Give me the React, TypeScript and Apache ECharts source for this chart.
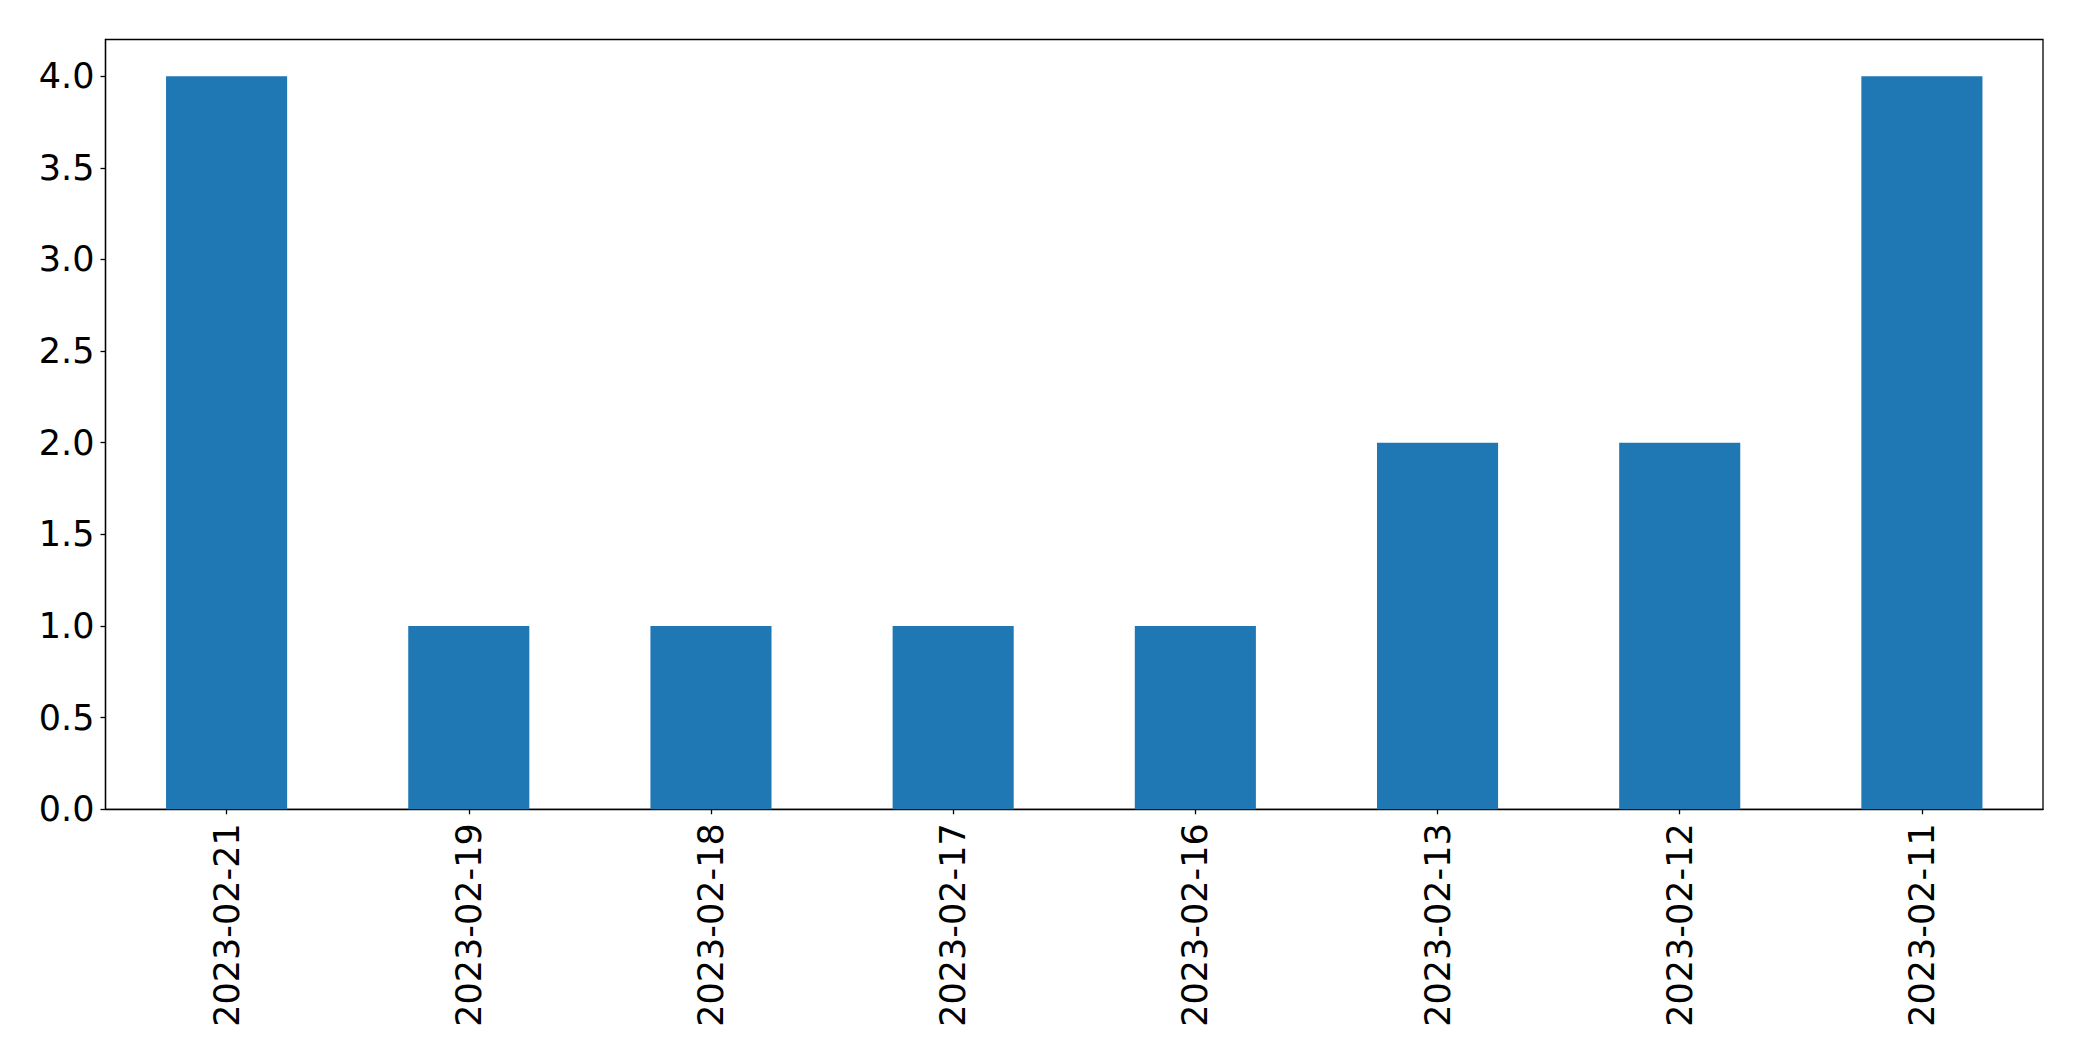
import React, { useEffect, useRef } from "react";
import * as echarts from "echarts";

const categories = [
  "2023-02-21",
  "2023-02-19",
  "2023-02-18",
  "2023-02-17",
  "2023-02-16",
  "2023-02-13",
  "2023-02-12",
  "2023-02-11",
];
const counts = [4, 1, 1, 1, 1, 2, 2, 4];
const yTicks = [0, 0.5, 1, 1.5, 2, 2.5, 3, 3.5, 4];

const FONT = "DejaVu Sans";

export default function App() {
  const ref = useRef<HTMLDivElement>(null);
  useEffect(() => {
    document.body.style.margin = "0";
    document.body.style.overflow = "hidden";
    const chart = echarts.init(ref.current!, null, { renderer: "svg" });
    chart.setOption({
      animation: false,
      backgroundColor: "#ffffff",
      grid: {
        left: 105.5,
        top: 39.5,
        right: 39,
        bottom: 251.7,
        containLabel: false,
        outerBoundsMode: "none",
        show: true,
        borderColor: "#000000",
        borderWidth: 1.3,
        backgroundColor: "transparent",
      },
      xAxis: {
        type: "category",
        data: categories,
        boundaryGap: true,
        axisLine: { show: true, lineStyle: { color: "#000", width: 1.3 } },
        axisTick: { show: true, alignWithLabel: true, length: 5, lineStyle: { color: "#000", width: 1.3 } },
        axisLabel: {
          rotate: 90,
          margin: 14,
          fontSize: 35,
          fontFamily: FONT,
          color: "#000",
          interval: 0,
        },
        splitLine: { show: false },
      },
      yAxis: {
        type: "value",
        min: 0,
        max: 4.2,
        interval: 0.5,
        axisLine: { show: true, lineStyle: { color: "#000", width: 1.3 } },
        axisTick: {
          show: true,
          length: 5,
          lineStyle: { color: "#000", width: 1.3 },
          customValues: yTicks,
        },
        axisLabel: {
          margin: 11,
          fontSize: 35,
          fontFamily: FONT,
          color: "#000",
          customValues: yTicks,
          formatter: (v: number) => v.toFixed(1),
        },
        splitLine: { show: false },
      },
      series: [
        {
          type: "bar",
          data: counts,
          barWidth: "50%",
          itemStyle: { color: "#1f77b4" },
        },
      ],
    });
    return () => chart.dispose();
  }, []);
  return <div ref={ref} style={{ width: 2082, height: 1061 }} />;
}
